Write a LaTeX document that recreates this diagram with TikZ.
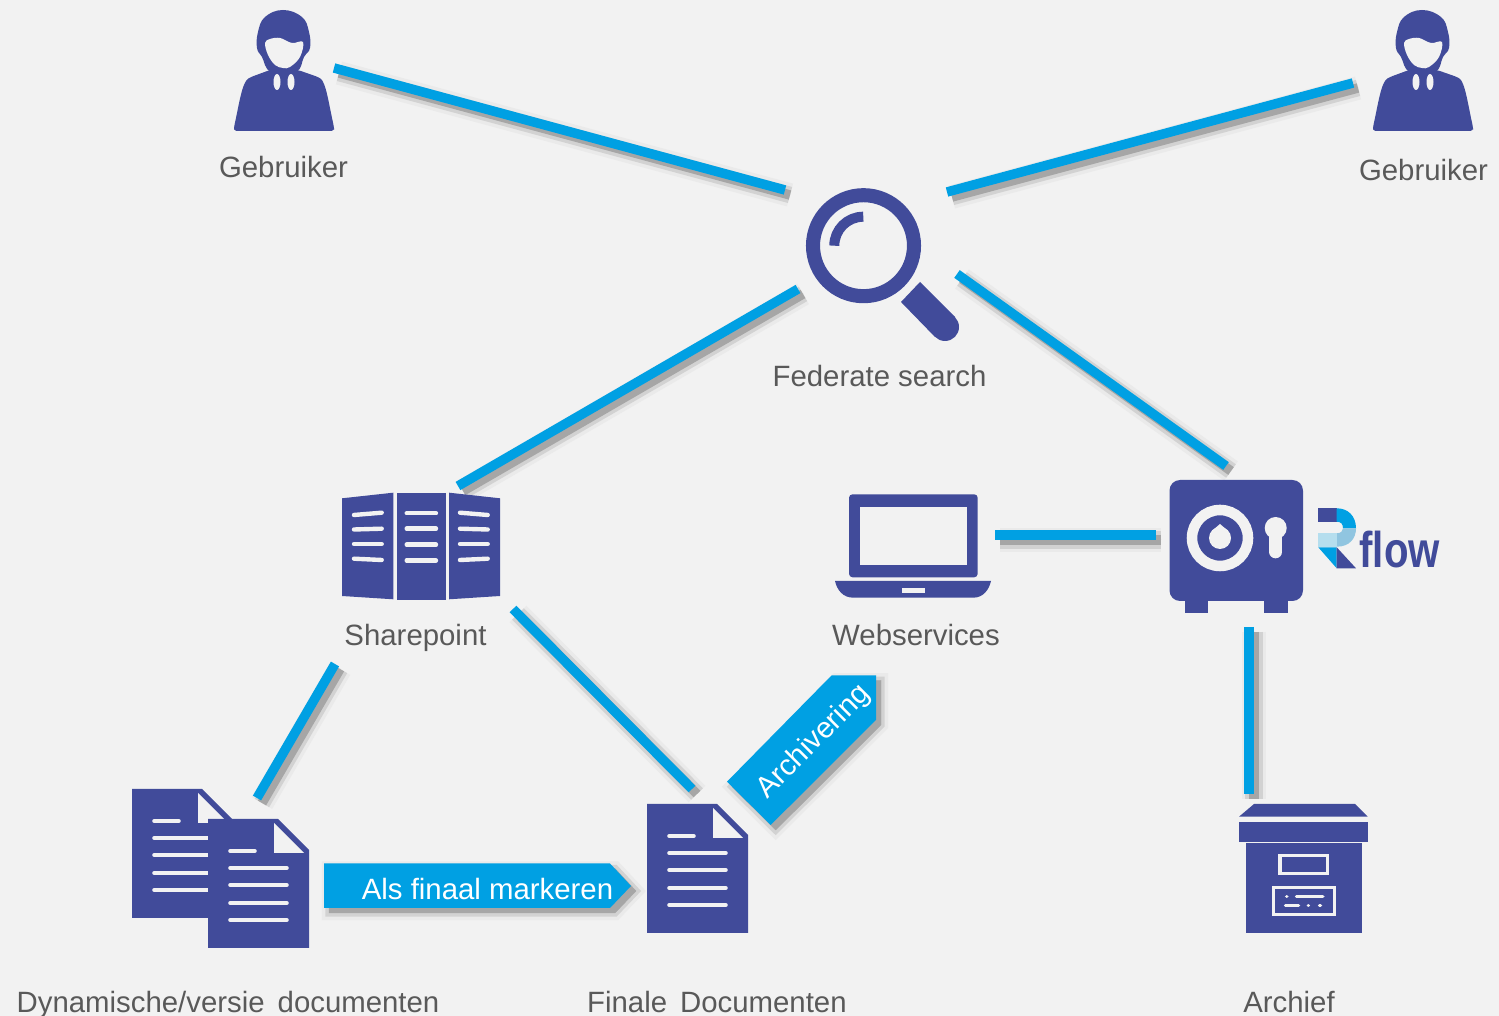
\documentclass[tikz,border=0pt]{standalone}
\usepackage{fontspec}
\setmainfont{Liberation Sans}
\definecolor{paper}{HTML}{F2F2F2}
\definecolor{iconblue}{HTML}{414B9A}
\definecolor{linkblue}{HTML}{00A0E3}
\definecolor{lighttint}{HTML}{B5DEEE}
\definecolor{midtint}{HTML}{90C5E0}
\definecolor{labelgray}{HTML}{595959}
\definecolor{shadeA}{HTML}{EAEAEA}
\definecolor{shadeB}{HTML}{D2D2D2}
\definecolor{shadeC}{HTML}{A6A6A6}
\tikzset{
    softshadow/.style={
        preaction={draw=shadeA,fill=shadeA,line width=#1+4pt,transform canvas={shift={(5,5)}}},
        preaction={draw=shadeB,fill=shadeB,line width=#1+2pt,transform canvas={shift={(5,5)}}},
        preaction={draw=shadeC,fill=shadeC,line width=#1,transform canvas={shift={(5,5)}}}},
    link/.style={softshadow=2.7pt,draw=linkblue,line width=2.7pt},
    thicklink/.style={softshadow=3pt,draw=linkblue,line width=3pt},
    tag/.style={softshadow=0.1pt,fill=linkblue},
    lbl/.style={text=labelgray,inner sep=0pt,font=\fontsize{8.35pt}{10pt}\selectfont},
    taglbl/.style={text=white,inner sep=0pt,font=\fontsize{8.35pt}{10pt}\selectfont},
    iconline/.style={draw=paper,line width=1pt,line cap=round},
    shelfline/.style={draw=paper,line width=1.25pt,line cap=round},
    docicon/.pic={
        \fill[iconblue] (0,0) -- (70,0) -- (101,31) -- (101,129) -- (0,129) -- cycle;
        \fill[paper] (66,4) -- (66,34) -- (96,34) -- cycle;
        \foreach \y/\x in {32/47,49/79,66/79,84/79,101/79}
            \draw[iconline] (22,\y) -- (\x,\y);
    },
    usericon/.pic={
        \fill[iconblue,rounded corners=0.8pt] (0,121) -- (100,121) -- (100,117)
            .. controls (95,95) and (92,72) .. (84,67) -- (64,60) -- (36,60) -- (17,67)
            .. controls (8,72) and (5,95) .. (0,117) -- cycle;
        \fill[iconblue] plot[smooth cycle,tension=.7] coordinates {(49,0) (68,7) (75,22) (76,38) (70,47) (62,62) (37,62) (28,47) (23,38) (24,22) (31,7)};
        \fill[paper] plot[smooth cycle,tension=.6] coordinates {(31,33) (36,29) (46,28) (58,33) (69,32) (66,47) (56,57) (49,58) (41,55) (34,45)};
        \fill[paper] (43,72) ellipse (3.5 and 8);
        \fill[paper] (57,72) ellipse (3.5 and 8);
    }
}
\begin{document}
\begin{tikzpicture}[x=0.01cm,y=-0.01cm]
    \useasboundingbox (0,0) rectangle (1499,1016);
    \fill[paper] (0,0) rectangle (1499,1016);

    % connector ends
    \coordinate (userleftend) at (334,68);
    \coordinate (userrightend) at (1353,83);
    \coordinate (searchnw) at (785,190);
    \coordinate (searchne) at (947,192);
    \coordinate (searchsw) at (798,289);
    \coordinate (searchse) at (957,274);
    \coordinate (sharetop) at (458,486);
    \coordinate (sharesw) at (335,664);
    \coordinate (sharese) at (513,609);
    \coordinate (dynamictop) at (257,798);
    \coordinate (finaltop) at (692,789);
    \coordinate (safetop) at (1226,466);
    \coordinate (safeleft) at (1156,535);
    \coordinate (safebottom) at (1249,627);
    \coordinate (laptopright) at (995,535);
    \coordinate (archivetop) at (1249,794);

    \draw[link] (userleftend) -- (searchnw);
    \draw[link] (searchne) -- (userrightend);
    \draw[link] (searchsw) -- (sharetop);
    \draw[link] (searchse) -- (safetop);
    \draw[link] (sharesw) -- (dynamictop);
    \draw[link] (sharese) -- (finaltop);
    \draw[thicklink] (laptopright) -- (safeleft);
    \draw[thicklink] (safebottom) -- (archivetop);

    % users
    \pic at (234,10) {usericon};
    \pic at (1373,10) {usericon};
    \node[lbl] (userleft) at (283.5,167) {Gebruiker};
    \node[lbl] (userright) at (1423.5,170) {Gebruiker};

    % search
    \draw[iconblue,line width=4pt] (863.5,245.7) circle (50.5);
    \draw[iconblue,line width=2.85pt] (834.3,245.7) .. controls (834.3,229.7) and (847.3,216.7) .. (863.3,216.7);
    \fill[iconblue] (920,282) -- (901,302) -- (935,337) -- (955,317) -- cycle;
    \fill[iconblue] (945,327) circle (14);
    \node[lbl] (search) at (879.5,376) {Federate search};

    % sharepoint
    \fill[iconblue] (342,498.3) -- (393.3,492.7) -- (393.3,599.3) -- (342,596) -- cycle;
    \fill[iconblue] (396.7,492.7) rectangle (445.7,600);
    \fill[iconblue] (449,492.7) -- (500,498.3) -- (500,596) -- (449,599.3) -- cycle;
    \draw[shelfline] (354,515) -- (381.7,512.7);
    \draw[shelfline] (354,529.5) -- (381.7,528.7);
    \draw[shelfline] (354,544) -- (381.7,544);
    \draw[shelfline] (354,558.7) -- (381.7,560);
    \foreach \y in {513.3,528.7,544.7,560.5}
        \draw[shelfline] (406.7,\y) -- (436,\y);
    \draw[shelfline] (460,512.7) -- (487.7,515);
    \draw[shelfline] (460,528.7) -- (487.7,529.5);
    \draw[shelfline] (460,544) -- (487.7,544);
    \draw[shelfline] (460,560) -- (487.7,558.7);
    \node[lbl] (share) at (415.5,638) {Sharepoint};

    % laptop
    \fill[iconblue,rounded corners=1pt] (849,494.3) rectangle (977.7,577.3);
    \fill[paper] (860,506.7) rectangle (966.7,565);
    \fill[iconblue] (835,581) -- (991,581) .. controls (989,590) and (983,597.7) .. (973.3,597.7) -- (853.3,597.7) .. controls (843,597.7) and (837,590) .. (835,581) -- cycle;
    \fill[paper] (901.7,587.7) rectangle (925,592.7);
    \node[lbl] (laptop) at (916,635) {Webservices};

    % safe
    \fill[iconblue,rounded corners=3pt] (1169.5,480) rectangle (1303,601);
    \fill[iconblue] (1185,598) rectangle (1208,612.7);
    \fill[iconblue] (1264,598) rectangle (1288,612.7);
    \draw[paper,line width=3pt] (1220,538) circle (28);
    \fill[paper] (1220,538) circle (11);
    \fill[paper] (1220,524) -- (1213,530) -- (1227,530) -- cycle;
    \fill[paper] (1275.7,528) circle (11);
    \draw[paper,line width=3.6pt,line cap=round] (1275.7,530) -- (1275.7,552);

    % logo
    \fill[iconblue] (1318.3,508.3) rectangle (1336.7,521.7);
    \fill[linkblue] (1336.7,508.3) .. controls (1348,508.3) and (1356,516) .. (1356,528.3) -- (1343,528.3) .. controls (1343,524) and (1341,521.7) .. (1336.7,521.7) -- cycle;
    \fill[midtint] (1356,528.3) -- (1343,528.3) .. controls (1343,531) and (1341,533.3) .. (1336.7,533.3) -- (1336.7,546.7) .. controls (1350,546.7) and (1356,538) .. (1356,528.3) -- cycle;
    \fill[lighttint] (1318.3,533.3) rectangle (1336.7,546.7);
    \fill[linkblue] (1318.3,547.3) -- (1336.7,547.3) -- (1336.7,568.3) -- cycle;
    \fill[iconblue] (1336.7,547.3) -- (1356,568.3) -- (1336.7,568.3) -- cycle;
    \node[text=iconblue,inner sep=0pt,xscale=.8,font=\fontsize{14.3pt}{16pt}\selectfont\bfseries,anchor=base west] (rflow) at (1359,568) {flow};

    % documents
    \pic at (132,789) {docicon};
    \pic at (208,819) {docicon};
    \pic at (647,804) {docicon};
    \node[lbl,anchor=west] (dynamic) at (16,1005) {Dynamische/versie\hspace{3.7pt}documenten};
    \node[lbl,anchor=west] (final) at (586.5,1002) {Finale\hspace{3.7pt}Documenten};

    % archive box
    \fill[iconblue] (1254,804) -- (1355,804) -- (1367.7,816.7) -- (1239,816.7) -- cycle;
    \fill[iconblue] (1239,822.3) rectangle (1367.7,841.7);
    \fill[iconblue] (1245.7,843.3) rectangle (1361.7,932.7);
    \draw[paper,line width=1pt] (1280,855.5) rectangle (1327.7,873.5);
    \draw[paper,line width=1pt] (1273.3,887.3) rectangle (1334.4,914.4);
    \draw[iconline] (1286.7,896.7) -- (1286.8,896.7);
    \draw[iconline] (1296.5,896.7) -- (1322.8,896.7);
    \draw[iconline] (1285.5,905.7) -- (1298.5,905.7);
    \draw[iconline] (1308.3,905.7) -- (1308.4,905.7);
    \draw[iconline] (1319.5,905.7) -- (1320.5,905.7);
    \node[lbl] (archive) at (1289,1002) {Archief};

    % steps
    \path[tag] (324,863.5) -- (610,863.5) -- (631,886) -- (610,908) -- (324,908) -- cycle;
    \node[taglbl] (markstep) at (487.5,889) {Als finaal markeren};
    \path[tag] (831.7,675.3) -- (876,675.3) -- (876,720) -- (770.7,825) -- (727,781.7) -- cycle;
    \node[taglbl,rotate=45] (archstep) at (814,742) {Archivering};
\end{tikzpicture}
\end{document}
